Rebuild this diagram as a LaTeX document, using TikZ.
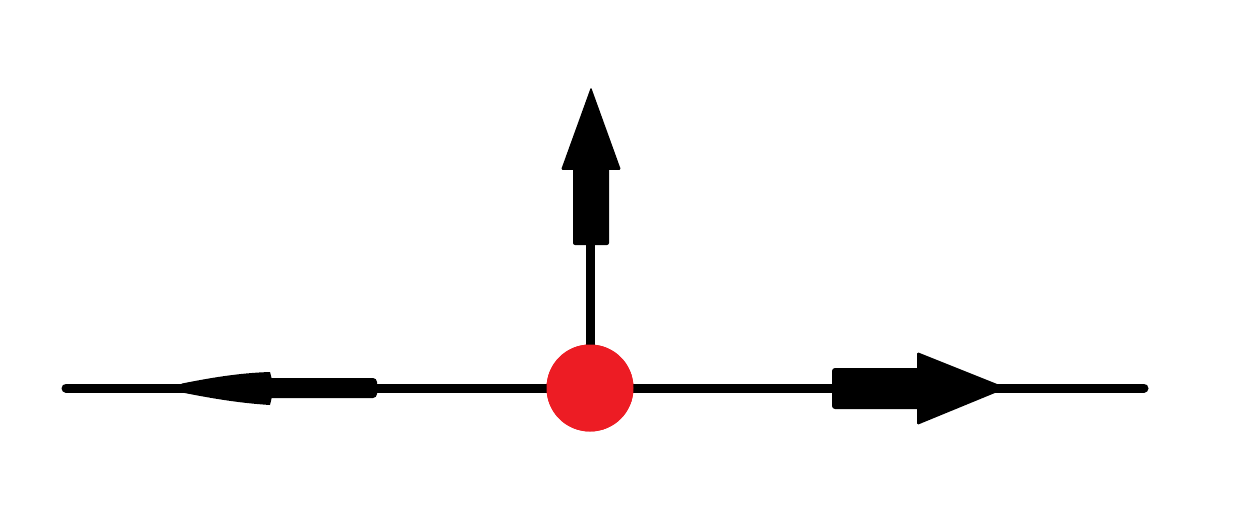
\documentclass[tikz,border=0pt]{standalone}
\definecolor{dotred}{HTML}{ED1C24}
\begin{document}
\begin{tikzpicture}[x=1pt,y=-1pt,
  axisline/.style={draw=black,line width=9pt,line cap=round},
  headfill/.style={fill=black,draw=none},
  dot/.style={circle,fill=dotred,draw=none,minimum size=87pt,inner sep=0pt}]
\useasboundingbox (0,0) rectangle (1248,524);
\coordinate (L) at (66,388);
\coordinate (R) at (1144,388);
\coordinate (U) at (590,230);
\node[dot] (c) at (590,388) {};
% base lines
\draw[axisline] (L) -- (R);
\draw[axisline,line cap=butt] (c.center) -- (U);
% up arrow
\fill[headfill,rounded corners=2pt] (573,245) rectangle (609,168);
\fill[headfill,rounded corners=1.5pt] (561,170) -- (621,170) -- (591,87) -- cycle;
% right arrow
\fill[headfill,rounded corners=3pt] (832,368) rectangle (920,409);
\fill[headfill,rounded corners=1.5pt] (917,352) -- (1007,388) -- (917,425) -- cycle;
% left arrow
\fill[headfill,rounded corners=4pt] (262,378) rectangle (377,398);
\fill[headfill] (176,388) -- (182,383.5) .. controls (210,378) and (238,373) .. (270,372) -- (274,388) -- (270,405) .. controls (238,403) and (210,398) .. (182,392.5) -- cycle;
% red dot on top
\node[dot] at (c) {};
\end{tikzpicture}
\end{document}
